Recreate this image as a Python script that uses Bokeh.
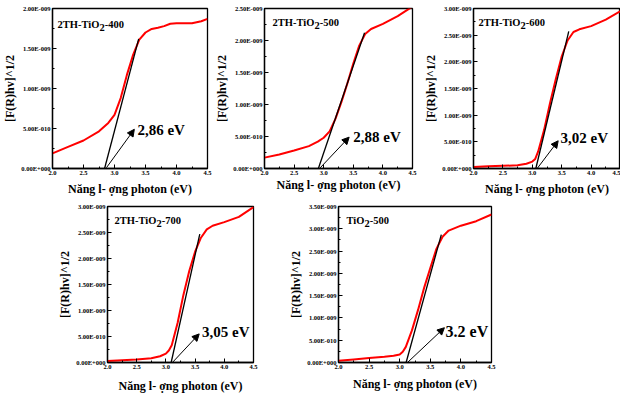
from bokeh.plotting import figure
from bokeh.layouts import row, column, Spacer
from bokeh.models import (Range1d, SingleIntervalTicker, PrintfTickFormatter,
                          CustomJSTickFormatter, Arrow, NormalHead)
from bokeh.core.properties import value
from bokeh.embed import file_html
from bokeh.resources import INLINE

# ---------------- data (y in units of 1E-009) ----------------
x400 = [2.0, 2.25, 2.5, 2.75, 2.9, 3.0, 3.1, 3.2, 3.3, 3.4, 3.5, 3.6, 3.7, 3.8, 3.9, 4.0, 4.25, 4.4, 4.5]
y400 = [0.19, 0.27, 0.35, 0.465, 0.57, 0.67, 0.88, 1.17, 1.42, 1.61, 1.70, 1.745, 1.76, 1.78, 1.81, 1.815, 1.815, 1.84, 1.87]

x500 = [2.0, 2.25, 2.5, 2.75, 2.9, 3.0, 3.1, 3.2, 3.3, 3.4, 3.5, 3.6, 3.7, 3.8, 4.0, 4.25, 4.4, 4.5]
y500 = [0.17, 0.22, 0.28, 0.35, 0.42, 0.48, 0.58, 0.78, 1.04, 1.33, 1.64, 1.92, 2.10, 2.18, 2.26, 2.38, 2.47, 2.53]

x600 = [2.0, 2.25, 2.5, 2.75, 2.9, 3.0, 3.05, 3.1, 3.2, 3.3, 3.4, 3.5, 3.6, 3.7, 3.8, 4.0, 4.25, 4.5]
y600 = [0.03, 0.04, 0.05, 0.06, 0.09, 0.13, 0.18, 0.32, 0.72, 1.22, 1.68, 2.10, 2.40, 2.56, 2.61, 2.67, 2.79, 2.95]

x700 = [2.0, 2.25, 2.5, 2.75, 2.9, 3.0, 3.05, 3.1, 3.2, 3.3, 3.4, 3.5, 3.6, 3.7, 3.8, 4.0, 4.25, 4.5]
y700 = [0.03, 0.045, 0.06, 0.08, 0.12, 0.17, 0.23, 0.33, 0.76, 1.30, 1.76, 2.13, 2.40, 2.56, 2.63, 2.70, 2.80, 2.99]

xTiO2 = [2.0, 2.25, 2.5, 2.75, 2.9, 3.0, 3.05, 3.1, 3.2, 3.3, 3.4, 3.5, 3.6, 3.7, 3.8, 4.0, 4.25, 4.5]
yTiO2 = [0.04, 0.07, 0.10, 0.13, 0.15, 0.18, 0.24, 0.35, 0.72, 1.18, 1.68, 2.12, 2.55, 2.82, 2.96, 3.07, 3.17, 3.32]

# band gaps (tangent foot) and tangent upper points
gaps = [2.86, 2.88, 3.02, 3.05, 3.2]
gap_labels = ["2,86 eV", "2,88 eV", "3,02 eV", "3,05 eV", "3.2 eV"]
tangent_foot = [2.84, 2.91, 3.06, 3.09, 3.105]
tangent_top_x = [3.39, 3.69, 3.62, 3.58, 3.68]
tangent_top_y = [1.62, 2.12, 2.57, 2.47, 2.87]
y_max = [2.0, 2.5, 3.0, 3.0, 3.5]
names = [("2TH-TiO", "2", "-400"), ("2TH-TiO", "2", "-500"), ("2TH-TiO", "2", "-600"),
         ("2TH-TiO", "2", "-700"), ("TiO", "2", "-500")]

FONT = "'Liberation Serif', 'Times New Roman', serif"

yfmt_code = """
const v = tick * 1e-9;
if (Math.abs(v) < 1e-20) { return "0.00E+000"; }
const e = Math.floor(Math.log10(Math.abs(v)) + 1e-9);
const m = v / Math.pow(10, e);
const s = e < 0 ? "-" : "+";
return m.toFixed(2) + "E" + s + String(Math.abs(e)).padStart(3, "0");
"""


def panel(xs, ys, i, width, height, bl, br, bt, bb, title_dx, title_dy, lab_x, lab_y,
          tip_x, tip_y, xlab_standoff, lab_size="15px"):
    top = y_max[i]
    p = figure(width=width, height=height, output_backend="svg", toolbar_location=None,
               x_range=Range1d(2.0, 4.5), y_range=Range1d(0, top),
               min_border_left=bl, min_border_right=br, min_border_top=bt, min_border_bottom=bb,
               background_fill_color="white", border_fill_color="white")
    p.grid.visible = False
    p.outline_line_color = "black"
    p.outline_line_width = 1.3

    p.xaxis.ticker = SingleIntervalTicker(interval=0.5, num_minor_ticks=2)
    p.yaxis.ticker = SingleIntervalTicker(interval=0.5, num_minor_ticks=2)
    p.xaxis.formatter = PrintfTickFormatter(format="%.1f")
    p.yaxis.formatter = CustomJSTickFormatter(code=yfmt_code)
    for ax in (p.xaxis[0], p.yaxis[0]):
        ax.axis_line_color = "black"
        ax.axis_line_width = 1.3
        ax.major_tick_in = 4
        ax.major_tick_out = 0
        ax.minor_tick_in = 2
        ax.minor_tick_out = 0
        ax.major_tick_line_color = "black"
        ax.minor_tick_line_color = "black"
        ax.major_label_text_font = FONT
        ax.major_label_text_font_style = "bold"
        ax.major_label_text_color = "black"
        ax.axis_label_text_font = FONT
        ax.axis_label_text_font_style = "bold"
        ax.axis_label_text_font_size = "12px"
        ax.axis_label_text_color = "black"
    p.xaxis.major_label_text_font_size = "6.5px"
    p.yaxis.major_label_text_font_size = "6.5px"
    p.xaxis.major_label_standoff = 2
    p.yaxis.major_label_standoff = 2
    p.xaxis.axis_label = "Năng l- ợng photon (eV)"
    p.yaxis.axis_label = "[F(R)hv]^1/2"
    p.xaxis.axis_label_standoff = xlab_standoff
    p.yaxis.axis_label_standoff = 1

    # curve
    p.line(xs, ys, line_color="#ff0000", line_width=2)
    # tangent
    p.line([tangent_foot[i], tangent_top_x[i]], [0, tangent_top_y[i]], line_color="black", line_width=1.3)
    # arrow
    p.add_layout(Arrow(end=NormalHead(size=7, line_color="black", fill_color="black", line_width=1),
                       x_start=tangent_foot[i] + 0.03, y_start=0.01, x_end=tip_x, y_end=tip_y,
                       line_color="black", line_width=1))
    # gap label
    p.text(x=[lab_x], y=[lab_y], text=[gap_labels[i]], text_font=value(FONT), text_font_style="bold",
           text_font_size=lab_size, text_baseline="middle", text_align="left", text_color="black")

    # sample name with subscript
    main, sub, tail = names[i]
    fs = 10.5
    w_main = {"2TH-TiO": 4.001, "TiO": 1.723}[main] * fs
    ty = top - title_dy
    common = dict(text_font=value(FONT), text_font_style="bold", text_font_size=f"{fs}px",
                  text_baseline="middle", text_align="left", text_color="black")
    p.text(x=[2.0], y=[ty], text=[main], x_offset=title_dx, **common)
    p.text(x=[2.0], y=[ty], text=[sub], x_offset=title_dx + w_main, y_offset=3, **common)
    p.text(x=[2.0], y=[ty], text=[tail], x_offset=title_dx + w_main + 0.5 * fs, **common)
    return p


f1 = panel(x400, y400, 0, 212, 198, 52, 5, 8, 30, 5, 16 / 80, 3.37, 0.48, 3.32, 0.49, 4)
f2 = panel(x500, y500, 1, 206, 198, 46, 6, 8, 30, 8, 14 / 64, 3.50, 0.50, 3.43, 0.49, 0)
f3 = panel(x600, y600, 2, 202, 198, 55, 0, 8, 30, 5, 14 / 53.3, 3.48, 0.58, 3.44, 0.52, 4)
f4 = panel(x700, y700, 3, 228, 198, 47, 30, 8, 34, 7, 14 / 52.7, 3.62, 0.58, 3.57, 0.55, 7)
f5 = panel(xTiO2, yTiO2, 4, 218, 198, 55, 10, 8, 34, 8, 14 / 45.1, 3.75, 0.70, 3.73, 0.78, 5, "16px")

layout = column(row(f1, f2, f3), row(Spacer(width=55, height=198), f4, f5))

with open("out.html", "w") as fh:
    fh.write(file_html(layout, INLINE))
